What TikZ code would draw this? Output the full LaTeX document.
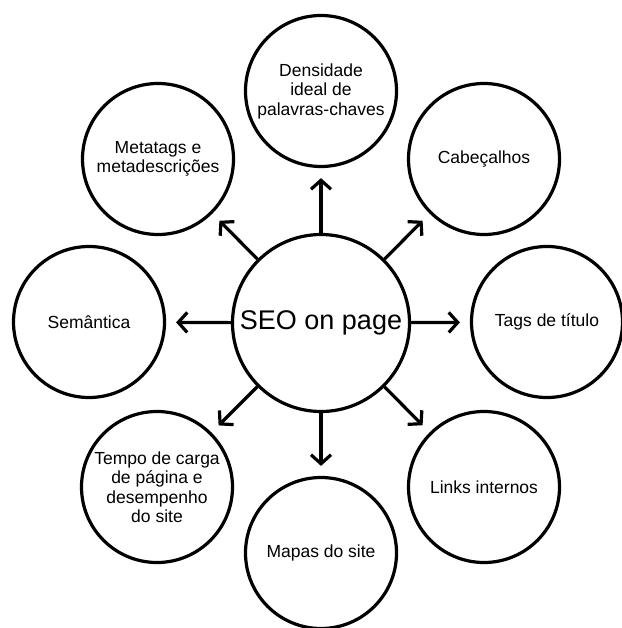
\documentclass[tikz,border=0pt]{standalone}
\usepackage{fontspec}
\setmainfont{Liberation Sans}
\usetikzlibrary{arrows.meta}
\begin{document}
\begin{tikzpicture}[x=1pt,y=-1pt,
  hub/.style={circle,draw,line width=3.2pt,minimum size=177pt,inner sep=0pt,
    font=\fontsize{27}{32}\selectfont},
  leaf/.style={circle,draw,line width=3.2pt,minimum size=151pt,inner sep=0pt,align=center,
    font=\fontsize{17.5}{19.5}\selectfont},
  arr/.style={line width=3.2pt,-{Straight Barb[length=9pt,width=20pt]},shorten >=10pt}]
\useasboundingbox (0,0) rectangle (621,628);
\node[hub] (c) at (321,323) {SEO on page};
\node[leaf] (n) at (321,91) {Densidade\\ideal de\\palavras-chaves};
\node[leaf] (ne) at (484,159) {Cabeçalhos};
\node[leaf] (e) at (547,322) {Tags de título};
\node[leaf] (se) at (484,487) {Links internos};
\node[leaf] (s) at (321,553) {Mapas do site};
\node[leaf] (sw) at (157,487) {Tempo de carga\\de página e\\desempenho\\do site};
\node[leaf] (w) at (89,322) {Semântica};
\node[leaf] (nw) at (158,159) {Metatags e\\metadescrições};
\foreach \t in {n,ne,e,se,s,sw,w,nw}
  \draw[arr] (c) -- (\t);
\end{tikzpicture}
\end{document}
